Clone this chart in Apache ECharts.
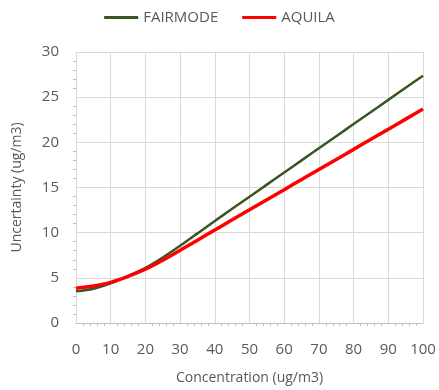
<!DOCTYPE html>
<html>
<head>
<meta charset="utf-8">
<script src="https://cdn.jsdelivr.net/npm/echarts@6/dist/echarts.min.js"></script>
<style>
  html, body { margin: 0; padding: 0; background: #fff; }
  #chart { width: 439px; height: 390px; }
</style>
</head>
<body>
<div id="chart"></div>
<script>
// concentration (ug/m3)
const concentration = [0, 5, 10, 15, 20, 25, 30, 35, 40, 45, 50, 55, 60, 65, 70, 75, 80, 85, 90, 95, 100];
// uncertainty (ug/m3)
const fairmode = [3.5, 3.8, 4.4, 5.2, 6.1, 7.25, 8.55, 9.92, 11.3, 12.64, 13.98, 15.32, 16.66, 18.0, 19.34, 20.68, 22.02, 23.36, 24.7, 26.04, 27.38];
const aquila = [3.85, 4.1, 4.5, 5.15, 5.95, 6.95, 8.05, 9.17, 10.3, 11.42, 12.53, 13.65, 14.76, 15.88, 16.99, 18.11, 19.22, 20.34, 21.45, 22.57, 23.68];

const font = '"Open Sans", "Liberation Sans", sans-serif';
const textColor = '#595959';

const myChart = echarts.init(document.getElementById('chart'));

myChart.setOption({
  animation: false,
  textStyle: { fontFamily: font },
  legend: {
    top: 5,
    left: 'center',
    icon: 'rect',
    itemWidth: 34,
    itemHeight: 3,
    itemGap: 24,
    textStyle: { color: textColor, fontSize: 15, fontFamily: font },
    data: ['FAIRMODE', 'AQUILA']
  },
  grid: { left: 76, right: 16, top: 52, bottom: 62 },
  xAxis: {
    type: 'value',
    min: 0,
    max: 100,
    interval: 10,
    name: 'Concentration (ug/m3)',
    nameLocation: 'middle',
    nameGap: 48,
    nameTextStyle: { color: textColor, fontSize: 14 },
    axisLine: { show: true, lineStyle: { color: '#bfbfbf' } },
    axisTick: { show: false },
    minorTick: { show: true, splitNumber: 5, length: 3, lineStyle: { color: '#bfbfbf' } },
    axisLabel: { color: textColor, fontSize: 15, margin: 19 },
    splitLine: { show: true, lineStyle: { color: '#d9d9d9' } }
  },
  yAxis: {
    type: 'value',
    min: 0,
    max: 30,
    interval: 5,
    name: 'Uncertainty (ug/m3)',
    nameLocation: 'middle',
    nameGap: 52,
    nameTextStyle: { color: textColor, fontSize: 14 },
    axisLine: { show: false },
    axisTick: { show: false },
    minorTick: { show: true, splitNumber: 5, length: 3, lineStyle: { color: '#bfbfbf' } },
    axisLabel: { color: textColor, fontSize: 15, margin: 17 },
    splitLine: { show: true, lineStyle: { color: '#d9d9d9' } }
  },
  series: [
    {
      name: 'FAIRMODE',
      type: 'line',
      smooth: 0.3,
      symbol: 'none',
      data: concentration.map((c, i) => [c, fairmode[i]]),
      lineStyle: { color: '#375623', width: 2.5 },
      itemStyle: { color: '#375623' }
    },
    {
      name: 'AQUILA',
      type: 'line',
      smooth: 0.3,
      symbol: 'none',
      data: concentration.map((c, i) => [c, aquila[i]]),
      lineStyle: { color: '#ff0000', width: 3.5 },
      itemStyle: { color: '#ff0000' }
    }
  ]
});
</script>
</body>
</html>
